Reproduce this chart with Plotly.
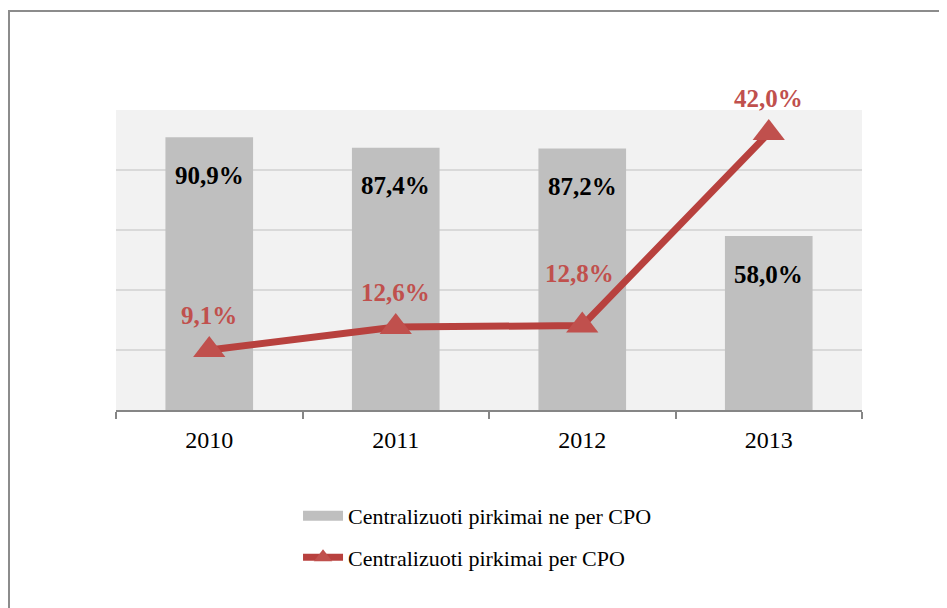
import plotly.graph_objects as go

years = ["2010", "2011", "2012", "2013"]
ne_per_cpo = [90.9, 87.4, 87.2, 58.0]
per_cpo = [9.1, 12.6, 12.8, 42.0]
ne_labels = ["90,9%", "87,4%", "87,2%", "58,0%"]
per_labels = ["9,1%", "12,6%", "12,8%", "42,0%"]
names = ["Centralizuoti pirkimai ne per CPO", "Centralizuoti pirkimai per CPO"]

xpos = list(range(len(years)))
bounds = [i - 0.5 for i in range(len(years) + 1)]

BAR = "#bfbfbf"
RED = "#b8413e"
MARK = "#c0504d"
FONT = "Liberation Serif"

fig = go.Figure()
fig.add_trace(go.Bar(
    x=xpos, y=ne_per_cpo, name=names[0], showlegend=False,
    marker=dict(color=BAR, line=dict(width=0)), hoverinfo="skip", width=0.47,
))
# legend entry for the bar series (wide grey swatch like the original)
fig.add_trace(go.Scatter(
    x=[None], y=[None], name=names[0], mode="lines", legendgroup="a",
    line=dict(color=BAR, width=12), hoverinfo="skip",
))
fig.add_trace(go.Scatter(
    x=xpos, y=per_cpo, name=names[1], yaxis="y2", legendgroup="b",
    mode="lines+markers",
    line=dict(color=RED, width=7),
    marker=dict(symbol="triangle-up", size=28, color=MARK, line=dict(width=0)),
    hoverinfo="skip",
))

annotations = []
for x, v, t in zip(xpos, ne_per_cpo, ne_labels):
    annotations.append(dict(x=x, y=v, xref="x", yref="y", text=t, showarrow=False, yshift=-38,
                            font=dict(family=FONT, size=25, color="black")))
shifts = [35, 34, 52, 35]
xshifts = [0, 0, -3, 0]
for x, v, t, s, xs in zip(xpos, per_cpo, per_labels, shifts, xshifts):
    annotations.append(dict(x=x, y=v, xref="x", yref="y2", text=t, showarrow=False,
                            yshift=s, xshift=xs,
                            font=dict(family=FONT, size=25, color=MARK)))
for a in annotations:
    a["text"] = "<b>" + a["text"] + "</b>"

fig.update_layout(
    width=947, height=608,
    margin=dict(l=108, r=93, t=102, b=206),
    paper_bgcolor="white", plot_bgcolor="#f2f2f2",
    showlegend=True,
    legend=dict(x=0.244, y=-0.283, xanchor="left", yanchor="top",
                font=dict(family=FONT, size=22, color="black"),
                traceorder="grouped", tracegroupgap=10, itemwidth=40,
                bgcolor="rgba(0,0,0,0)"),
    xaxis=dict(range=[bounds[0], bounds[-1]], showgrid=False, zeroline=False,
               showline=True, linecolor="#868686", linewidth=1.5,
               tickvals=xpos, ticktext=years, ticks="", ticklabelstandoff=7,
               minor=dict(tickvals=bounds, ticks="outside", ticklen=7,
                          tickcolor="#868686", tickwidth=1.5, showgrid=False),
               tickfont=dict(family=FONT, size=24, color="black"), fixedrange=True),
    yaxis=dict(range=[0, 100], dtick=20, showgrid=True, gridcolor="#d9d9d9", gridwidth=2,
               showticklabels=False, zeroline=False, showline=False, fixedrange=True),
    yaxis2=dict(range=[0, 45.5], overlaying="y", side="right", showgrid=False,
                showticklabels=False, zeroline=False, showline=False, fixedrange=True),
    annotations=annotations,
    shapes=[dict(type="rect", xref="paper", yref="paper",
                 x0=(9 - 116) / 746, x1=(960 - 116) / 746,
                 y0=(410 - 620) / 300, y1=(410 - 11) / 300,
                 line=dict(color="#8c8c8c", width=2), fillcolor="rgba(0,0,0,0)", layer="below")],
)

fig.write_html("out.html")
